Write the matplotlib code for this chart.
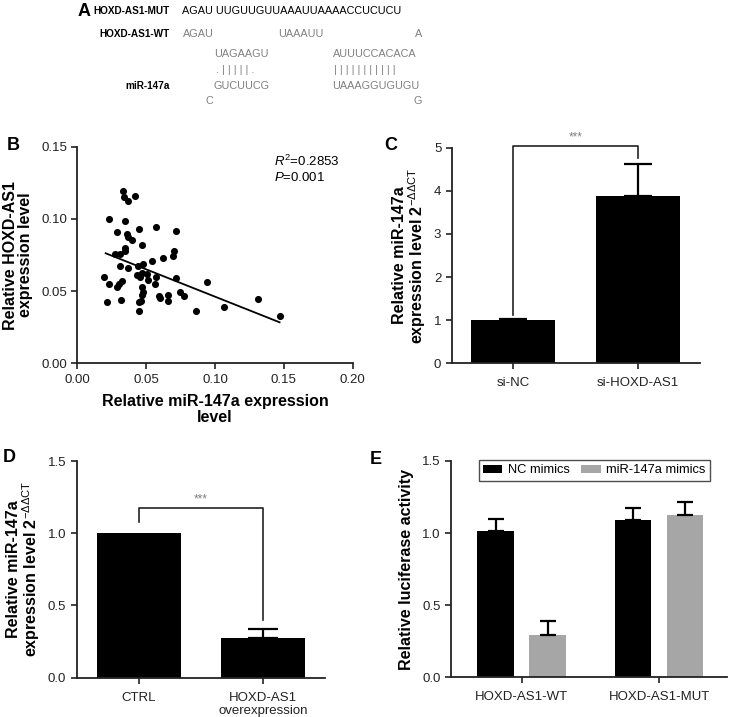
import matplotlib
matplotlib.use("Agg")
import matplotlib.pyplot as plt
from matplotlib import font_manager
import numpy as np

plt.rcParams['font.family'] = ['Liberation Sans', 'DejaVu Sans']
plt.rcParams['mathtext.fontset'] = 'custom'
plt.rcParams['mathtext.rm'] = 'Liberation Sans'
plt.rcParams['mathtext.it'] = 'Liberation Sans:italic'
plt.rcParams['mathtext.bf'] = 'Liberation Sans:bold'

# ---------------- data ----------------
# Panel B scatter
scatter_x = [0.0333, 0.0341, 0.0370, 0.0416, 0.0228, 0.0346, 0.0286, 0.0449, 0.0570, 0.0715,
             0.0358, 0.0370, 0.0394, 0.0467, 0.0346, 0.0348, 0.0273, 0.0309, 0.0703, 0.0696,
             0.0619, 0.0543, 0.0309, 0.0365, 0.0442, 0.0474, 0.0430, 0.0467, 0.0503, 0.0514,
             0.0454, 0.0575, 0.0720, 0.0196, 0.0232, 0.0322, 0.0304, 0.0286, 0.0563, 0.0467,
             0.0478, 0.0467, 0.0459, 0.0449, 0.0213, 0.0314, 0.0447, 0.0592, 0.0599, 0.0659,
             0.0659, 0.0744, 0.0773, 0.0865, 0.0942, 0.1063, 0.1312, 0.1469]
scatter_y = [0.1193, 0.1150, 0.1126, 0.1159, 0.0997, 0.0988, 0.0911, 0.0932, 0.0942, 0.0916,
             0.0895, 0.0873, 0.0854, 0.0821, 0.0796, 0.0778, 0.0757, 0.0757, 0.0778, 0.0743,
             0.0727, 0.0706, 0.0676, 0.0658, 0.0676, 0.0688, 0.0611, 0.0623, 0.0618, 0.0577,
             0.0600, 0.0600, 0.0589, 0.0596, 0.0549, 0.0570, 0.0549, 0.0526, 0.0549, 0.0530,
             0.0496, 0.0473, 0.0431, 0.0427, 0.0422, 0.0436, 0.0360, 0.0468, 0.0454, 0.0473,
             0.0431, 0.0496, 0.0466, 0.0362, 0.0561, 0.0392, 0.0445, 0.0330]
fit_x = [0.0206, 0.1469]
fit_y = [0.0762, 0.0284]
r2_text = "=0.2853"
p_text = "=0.001"

# Panel C
c_categories = ["si-NC", "si-HOXD-AS1"]
c_values = [1.00, 3.87]
c_errors = [0.03, 0.75]

# Panel D
d_categories = ["CTRL", "HOXD-AS1\noverexpression"]
d_values = [1.00, 0.272]
d_errors = [0.0, 0.062]

# Panel E
e_groups = ["HOXD-AS1-WT", "HOXD-AS1-MUT"]
e_series = ["NC mimics", "miR-147a mimics"]
e_nc = [1.014, 1.090]
e_nc_err = [0.086, 0.082]
e_mir = [0.293, 1.125]
e_mir_err = [0.097, 0.093]

# ---------------- figure ----------------
W, H = 730, 717
fig = plt.figure(figsize=(W / 100, H / 100), dpi=100)

def ax_px(x0, x1, ytop, ybot):
    return fig.add_axes([x0 / W, 1 - ybot / H, (x1 - x0) / W, (ybot - ytop) / H])

TICK_FS = 9.5
LAB_FS = 11.5
GRAY = '#808080'

def style(ax):
    for s in ['top', 'right']:
        ax.spines[s].set_visible(False)
    for s in ['left', 'bottom']:
        ax.spines[s].set_linewidth(1.3)
        ax.spines[s].set_color('#222222')
    ax.tick_params(direction='out', length=4, width=1.2, labelsize=TICK_FS, colors='#222222')

# ---- Panel A (text) ----
# narrow font if available
try:
    font_manager.findfont(font_manager.FontProperties(family='Liberation Sans Narrow'),
                          fallback_to_default=False)
    NARROW = ['Liberation Sans Narrow', 'Liberation Sans']
    seq_fs = 9.5
    lab_fs = 9.0
except Exception:
    NARROW = ['Liberation Sans', 'DejaVu Sans']
    seq_fs = 7.8
    lab_fs = 7.2

ty = lambda y: 1 - y / H
tx = lambda x: x / W

def seq(x, y, s, color=GRAY):
    fig.text(tx(x), ty(y), s, fontsize=seq_fs, color=color, va='center', ha='left', family=NARROW)

def lab(y, s):
    fig.text(tx(170), ty(y), s, fontsize=lab_fs, fontweight='bold', va='center', ha='right', family=NARROW)

fig.text(tx(78), ty(11), "A", fontsize=13, fontweight='bold', va='center', ha='left')
lab(11, "HOXD-AS1-MUT")
seq(182.5, 11, "AGAU UUGUUGUUAAAUUAAAACCUCUCU", color='black')
lab(34, "HOXD-AS1-WT")
seq(182.5, 34, "AGAU")
seq(278, 34, "UAAAUU")
seq(415, 34, "A")
seq(214, 54, "UAGAAGU")
seq(332.5, 54, "AUUUCCACACA")
seq(216, 70, ". | | | | | .")
seq(334, 70, "| | | | | | | | | | |")
lab(86, "miR-147a")
seq(214, 86, "GUCUUCG")
seq(332.5, 86, "UAAAGGUGUGU")
seq(205, 101, "C")
seq(414, 101, "G")

# ---- Panel B ----
axB = ax_px(77.3, 352.7, 146.7, 363.3)
style(axB)
axB.scatter(scatter_x, scatter_y, s=26, color='black', zorder=3, linewidths=0)
axB.plot(fit_x, fit_y, color='black', lw=1.3)
axB.set_xlim(0, 0.20)
axB.set_ylim(0, 0.15)
axB.set_xticks(np.arange(0, 0.201, 0.05))
axB.set_yticks(np.arange(0, 0.151, 0.05))
axB.xaxis.set_major_formatter(matplotlib.ticker.FormatStrFormatter('%.2f'))
axB.yaxis.set_major_formatter(matplotlib.ticker.FormatStrFormatter('%.2f'))
axB.set_xlabel("Relative miR-147a expression\nlevel", fontsize=LAB_FS, fontweight='bold', labelpad=6, linespacing=1.05)
axB.set_ylabel("Relative HOXD-AS1\nexpression level", fontsize=LAB_FS, fontweight='bold', labelpad=6, linespacing=1.0)
axB.text(0.143, 0.1395, "$\\mathit{R}^{2}$" + r2_text, fontsize=9.5, ha='left', va='center')
axB.text(0.143, 0.129, "$\\mathit{P}$" + p_text, fontsize=9.5, ha='left', va='center')
fig.text(tx(7), ty(145), "B", fontsize=13, fontweight='bold', va='center', ha='left')

# ---- Panel C ----
axC = ax_px(451.7, 700, 147.7, 363.3)
style(axC)
xc = np.arange(len(c_categories))
axC.bar(xc, c_values, width=0.674, color='black', zorder=2)
axC.errorbar(xc, c_values, yerr=[np.zeros(len(c_errors)), c_errors], fmt='none',
             ecolor='black', elinewidth=1.6, capsize=10, capthick=1.6, zorder=3)
axC.set_xlim(-0.494, 1.498)
axC.set_ylim(0, 5)
axC.set_yticks(range(0, 6))
axC.set_xticks(xc)
axC.set_xticklabels(c_categories)
axC.tick_params(axis='x', pad=6)
axC.plot([0, 0, 1, 1], [1.12, 5.03, 5.03, 4.76], color='#222222', lw=1.2, clip_on=False)
axC.text(0.5, 5.09, "***", ha='center', va='bottom', fontsize=8.5, color=GRAY)
axC.set_ylabel("Relative miR-147a\nexpression level 2$^{-\\Delta\\Delta\\mathrm{CT}}$",
               fontsize=LAB_FS, fontweight='bold', labelpad=4, linespacing=1.0)
fig.text(tx(384), ty(145), "C", fontsize=13, fontweight='bold', va='center', ha='left')

# ---- Panel D ----
axD = ax_px(76.7, 325, 461, 677.7)
style(axD)
xd = np.arange(len(d_categories))
axD.bar(xd, d_values, width=0.679, color='black', zorder=2)
axD.errorbar(xd[1:], d_values[1:], yerr=[[0], d_errors[1:]], fmt='none',
             ecolor='black', elinewidth=1.6, capsize=11, capthick=1.6, zorder=3)
axD.set_xlim(-0.5, 1.499)
axD.set_ylim(0, 1.5)
axD.set_yticks([0, 0.5, 1.0, 1.5])
axD.yaxis.set_major_formatter(matplotlib.ticker.FormatStrFormatter('%.1f'))
axD.set_xticks(xd)
axD.set_xticklabels(d_categories, linespacing=1.2)
axD.tick_params(axis='x', pad=6)
axD.plot([0, 0, 1, 1], [1.078, 1.178, 1.178, 0.40], color='#222222', lw=1.2, clip_on=False)
axD.text(0.5, 1.19, "***", ha='center', va='bottom', fontsize=8.5, color=GRAY)
axD.set_ylabel("Relative miR-147a\nexpression level 2$^{-\\Delta\\Delta\\mathrm{CT}}$",
               fontsize=LAB_FS, fontweight='bold', labelpad=4, linespacing=1.0)
fig.text(tx(3), ty(457), "D", fontsize=13, fontweight='bold', va='center', ha='left')

# ---- Panel E ----
axE = ax_px(451, 726.7, 461, 677.3)
style(axE)
xe = np.arange(len(e_groups))
bw = 0.267
off = 0.19
axE.bar(xe - off, e_nc, width=bw, color='black', label=e_series[0], zorder=2)
axE.bar(xe + off, e_mir, width=bw, color='#a6a6a6', label=e_series[1], zorder=2)
axE.errorbar(xe - off, e_nc, yerr=[np.zeros(2), e_nc_err], fmt='none',
             ecolor='black', elinewidth=1.6, capsize=6, capthick=1.6, zorder=3)
axE.errorbar(xe + off, e_mir, yerr=[np.zeros(2), e_mir_err], fmt='none',
             ecolor='black', elinewidth=1.6, capsize=6, capthick=1.6, zorder=3)
axE.set_xlim(-0.515, 1.493)
axE.set_ylim(0, 1.5)
axE.set_yticks([0, 0.5, 1.0, 1.5])
axE.yaxis.set_major_formatter(matplotlib.ticker.FormatStrFormatter('%.1f'))
axE.set_xticks(xe)
axE.set_xticklabels(e_groups)
axE.tick_params(axis='x', pad=6)
axE.set_ylabel("Relative luciferase activity", fontsize=LAB_FS, fontweight='bold', labelpad=6)
leg = axE.legend(loc='upper left', bbox_to_anchor=(0.10, 1.005), ncol=2, frameon=True,
                 fancybox=False, edgecolor='#222222', fontsize=9.3, handlelength=1.5,
                 handleheight=0.55, columnspacing=0.9, handletextpad=0.4, borderpad=0.35,
                 borderaxespad=0.0)
leg.get_frame().set_linewidth(1.0)
fig.text(tx(370), ty(460), "E", fontsize=13, fontweight='bold', va='center', ha='left')

fig.savefig("out.png", dpi=100)
